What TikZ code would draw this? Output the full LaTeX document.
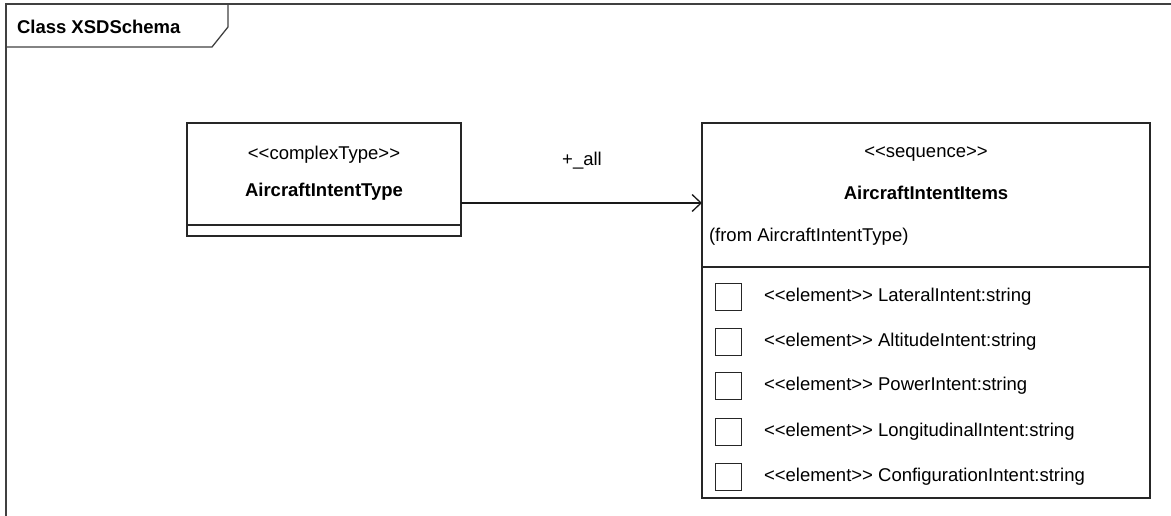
\documentclass[tikz,border=0pt]{standalone}
\usepackage{fontspec}
\setmainfont{Liberation Sans}[Ligatures=TeXOff]
\usetikzlibrary{arrows.meta}
\begin{document}
\begin{tikzpicture}[x=1pt,y=-1pt,
  line width=1.1pt,
  every node/.style={font=\fontsize{18.5}{20}\selectfont, inner sep=0pt, outer sep=0pt},
  umlbox/.style={draw=black!85, rectangle, inner sep=0pt, outer sep=0pt},
  frameline/.style={draw=black!75, line width=1.3pt},
  chk/.style={draw=black!85, rectangle, minimum width=26pt, minimum height=27pt, line width=1pt},
  lbl/.style={anchor=west},
  bold/.style={font=\fontsize{18.5}{20}\selectfont\bfseries}
]
\useasboundingbox (0,0) rectangle (1171,515);
% frame
\draw[frameline] (6,520) -- (6,4) -- (1180,4);
\draw[frameline] (6,47) -- (212,47) -- (228,27) -- (228,4);
\node[bold, anchor=west] (title) at (17,27) {Class XSDSchema};

% box 1
\node[umlbox, minimum width=274pt, minimum height=113pt] (b1) at (324,179.5) {};
\coordinate (d1) at (0,225);
\draw[black!85] (b1.west |- d1) -- (b1.east |- d1);
\node (b1s) at (324,155) {<<complexType>>};
\node[bold] (b1n) at (324,192) {AircraftIntentType};

% box 2
\node[umlbox, minimum width=448pt, minimum height=375pt] (b2) at (926,310.5) {};
\coordinate (d2) at (0,267);
\draw[black!85] (b2.west |- d2) -- (b2.east |- d2);
\node (b2s) at (926,154) {<<sequence>>};
\node[bold] (b2n) at (926,193) {AircraftIntentItems};
\node[lbl] (b2f) at (709,237) {(from AircraftIntentType)};

% association
\coordinate (ay) at (0,203);
\draw[black!90, -{Straight Barb[length=9pt,width=17pt,line width=1.3pt]}] (b1.east |- ay) -- (b2.west |- ay);
\node (all) at (582,161) {+\_all};

% attributes
\foreach \i/\yy/\t in {1/297/LateralIntent, 2/342/AltitudeIntent, 3/386/PowerIntent, 4/432/LongitudinalIntent, 5/477/ConfigurationIntent} {
  \node[chk] (c\i) at (728,\yy) {};
  \node[lbl] (t\i) at (764,\yy) {<<element>> \t:string};
}
\end{tikzpicture}
\end{document}
